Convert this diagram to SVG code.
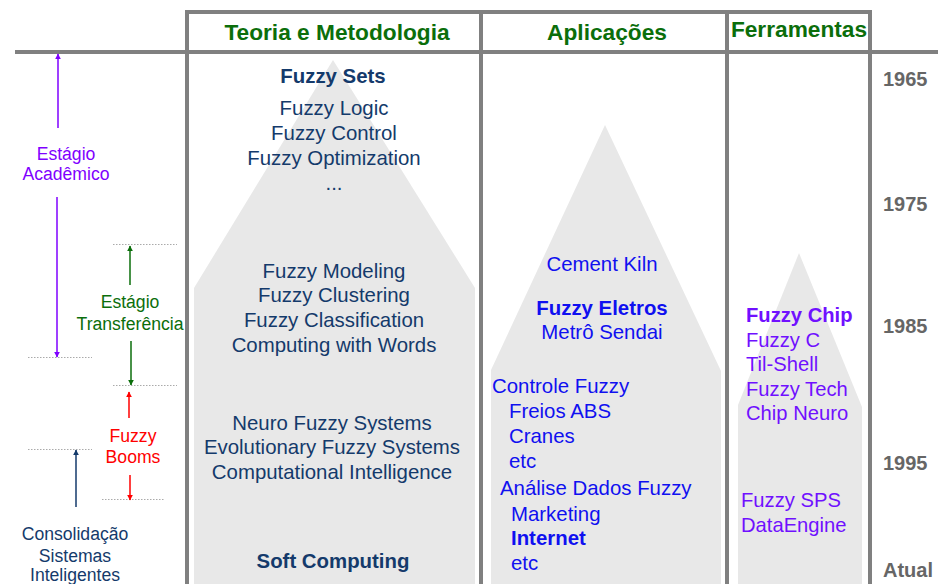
<svg xmlns="http://www.w3.org/2000/svg" width="949" height="584" viewBox="0 0 949 584">
<style>
text{font-family:"Liberation Sans",Arial,sans-serif}
.hd{font-size:22.7px;font-weight:bold;fill:#0b6e0b;text-anchor:middle}
.yr{font-size:20px;font-weight:bold;fill:#666}
.th{font-size:20.4px;fill:#143a6b;text-anchor:middle}
.ap{font-size:20.4px;fill:#1010f0}
.fe{font-size:20.2px;fill:#7010ff}
.b{font-weight:bold}
.lb{font-size:17.6px;text-anchor:middle}
.grid{stroke:#808080;stroke-width:4;fill:none}
.dot{stroke:#aaa;stroke-width:1;stroke-dasharray:1.5 1.5}
.mtn{fill:#e8e8e8}
</style>
<defs>
<marker id="ap" viewBox="0 0 10 10" refX="9" refY="5" markerWidth="6" markerHeight="6" markerUnits="userSpaceOnUse" orient="auto"><path d="M0,0L10,5L0,10z" fill="#7f00ff"/></marker>
<marker id="ag" viewBox="0 0 10 10" refX="9" refY="5" markerWidth="6" markerHeight="6" markerUnits="userSpaceOnUse" orient="auto"><path d="M0,0L10,5L0,10z" fill="#0b6e0b"/></marker>
<marker id="ar" viewBox="0 0 10 10" refX="9" refY="5" markerWidth="6" markerHeight="6" markerUnits="userSpaceOnUse" orient="auto"><path d="M0,0L10,5L0,10z" fill="#ff0000"/></marker>
<marker id="an" viewBox="0 0 10 10" refX="9" refY="5" markerWidth="6" markerHeight="6" markerUnits="userSpaceOnUse" orient="auto"><path d="M0,0L10,5L0,10z" fill="#143a6b"/></marker>
</defs>
<g id="mountains">
<polygon class="mtn" points="333,60 475,288 475,584 194,584 194,288"/>
<polygon class="mtn" points="605,125 721,371 721,584 491,584 491,370"/>
<polygon class="mtn" points="799,253 862,407 862,584 738,584 738,405"/>
</g>
<g id="grid">
<path class="grid" d="M185,12H872M15,52H938M187,10V584M481,12V584M727,12V584M870,10V584"/>
</g>
<g id="headers">
<text class="hd" x="337" y="40">Teoria e Metodologia</text>
<text class="hd" x="607" y="40">Aplicações</text>
<text class="hd" x="799" y="37">Ferramentas</text>
</g>
<g id="years">
<text class="yr" x="883" y="86">1965</text>
<text class="yr" x="883" y="211">1975</text>
<text class="yr" x="883" y="333">1985</text>
<text class="yr" x="883" y="470">1995</text>
<text class="yr" x="883" y="577">Atual</text>
</g>
<g id="teoria">
<text class="th b" x="333" y="83">Fuzzy Sets</text>
<text class="th" x="334" y="115">Fuzzy Logic</text>
<text class="th" x="334" y="140">Fuzzy Control</text>
<text class="th" x="334" y="165">Fuzzy Optimization</text>
<text class="th" x="334" y="190">...</text>
<text class="th" x="334" y="278">Fuzzy Modeling</text>
<text class="th" x="334" y="302">Fuzzy Clustering</text>
<text class="th" x="334" y="327">Fuzzy Classification</text>
<text class="th" x="334" y="352">Computing with Words</text>
<text class="th" x="332" y="430">Neuro Fuzzy Systems</text>
<text class="th" x="332" y="454">Evolutionary Fuzzy Systems</text>
<text class="th" x="332" y="479">Computational Intelligence</text>
<text class="th b" x="333" y="568">Soft Computing</text>
</g>
<g id="aplicacoes">
<text class="ap" x="602" y="271" text-anchor="middle">Cement Kiln</text>
<text class="ap b" x="602" y="315" text-anchor="middle">Fuzzy Eletros</text>
<text class="ap" x="602" y="339" text-anchor="middle">Metrô Sendai</text>
<text class="ap" x="492" y="393">Controle Fuzzy</text>
<text class="ap" x="509" y="418">Freios ABS</text>
<text class="ap" x="509" y="443">Cranes</text>
<text class="ap" x="509" y="468">etc</text>
<text class="ap" x="500" y="495">Análise Dados Fuzzy</text>
<text class="ap" x="511" y="521">Marketing</text>
<text class="ap b" x="511" y="545">Internet</text>
<text class="ap" x="511" y="570">etc</text>
</g>
<g id="ferramentas">
<text class="fe b" x="746" y="322">Fuzzy Chip</text>
<text class="fe" x="746" y="347">Fuzzy C</text>
<text class="fe" x="746" y="371">Til-Shell</text>
<text class="fe" x="746" y="396">Fuzzy Tech</text>
<text class="fe" x="746" y="420">Chip Neuro</text>
<text class="fe" x="741" y="507">Fuzzy SPS</text>
<text class="fe" x="741" y="532">DataEngine</text>
</g>
<g id="stage-labels">
<text class="lb" x="66" y="160" fill="#7f00ff">Estágio</text>
<text class="lb" x="66" y="180" fill="#7f00ff">Acadêmico</text>
<text class="lb" x="130" y="308" fill="#0b6e0b">Estágio</text>
<text class="lb" x="130" y="330" fill="#0b6e0b">Transferência</text>
<text class="lb" x="133" y="442" fill="#ff0000">Fuzzy</text>
<text class="lb" x="133" y="463" fill="#ff0000">Booms</text>
<text class="lb" x="75" y="540" fill="#143a6b">Consolidação</text>
<text class="lb" x="75" y="562" fill="#143a6b">Sistemas</text>
<text class="lb" x="75" y="581" fill="#143a6b">Inteligentes</text>
</g>
<g id="connectors">
<line class="dot" x1="28" y1="357.5" x2="92" y2="357.5"/>
<line class="dot" x1="113" y1="244.5" x2="177" y2="244.5"/>
<line class="dot" x1="113" y1="385.5" x2="177" y2="385.5"/>
<line class="dot" x1="102" y1="499.5" x2="165" y2="499.5"/>
<line class="dot" x1="28" y1="449.5" x2="92" y2="449.5"/>
<line x1="58" y1="128" x2="58" y2="54" stroke="#7f00ff" stroke-width="1.5" marker-end="url(#ap)"/>
<line x1="57" y1="197" x2="57" y2="357" stroke="#7f00ff" stroke-width="1.5" marker-end="url(#ap)"/>
<line x1="130" y1="285" x2="130" y2="246" stroke="#0b6e0b" stroke-width="1.5" marker-end="url(#ag)"/>
<line x1="131" y1="341" x2="131" y2="385" stroke="#0b6e0b" stroke-width="1.5" marker-end="url(#ag)"/>
<line x1="129" y1="418" x2="129" y2="392" stroke="#ff0000" stroke-width="1.5" marker-end="url(#ar)"/>
<line x1="130" y1="475" x2="130" y2="500" stroke="#ff0000" stroke-width="1.5" marker-end="url(#ar)"/>
<line x1="76" y1="507" x2="76" y2="450" stroke="#143a6b" stroke-width="1.5" marker-end="url(#an)"/>
</g>
</svg>
